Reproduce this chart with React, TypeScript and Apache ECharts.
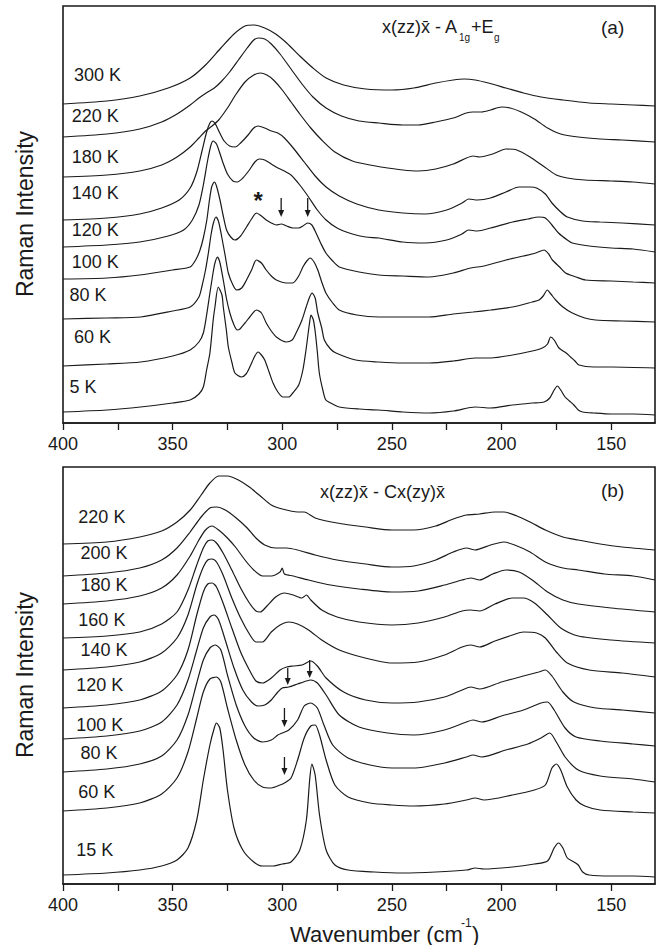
import React, { useEffect, useRef } from "react";
import * as echarts from "echarts";

// ---------- axis ticks ----------
const majorTicks = [400, 350, 300, 250, 200, 150];
const minorTicks = [400, 375, 350, 325, 300, 275, 250, 225, 200, 175, 150];

// ---------- panel (a): x(zz)x - A1g+Eg ----------
const labelsA = ["300 K", "220 K", "180 K", "140 K", "120 K", "100 K", "80 K", "60 K", "5 K"];

const a300K: number[][] = [[400,319],[380,322],[365,327],[352,335],[342,345],[335,358],[328,375],[322,389],[317,397],[313,398],[308,395],[303,389],[298,380],[292,367],[286,355],[280,345],[272,338],[262,334],[250,333],[240,335],[230,340],[222,343],[217,344],[212,343],[206,340],[198,335],[190,330],[182,326],[172,323],[160,320],[150,319],[140,318],[130,317]];
const a220K: number[][] = [[400,286],[380,289],[365,294],[355,301],[348,309],[342,318],[338,325],[334,331],[331,335],[328,341],[324,351],[320,363],[316,375],[313,383],[311,385],[308,384],[305,379],[301,369],[296,354],[291,339],[286,326],[280,315],[273,307],[265,302],[256,300],[245,298],[238,298],[230,301],[222,305],[216,310],[213,311],[209,311],[205,313],[200,316],[196,315],[191,311],[185,304],[179,295],[173,289],[165,286],[155,284],[145,283],[130,281]];
const a180K: number[][] = [[400,246],[380,248],[365,252],[355,258],[348,266],[342,276],[338,285],[335,292],[332,297],[329,303],[325,315],[321,329],[317,341],[313,348],[310,350],[307,348],[304,343],[300,333],[296,321],[292,309],[287,295],[282,283],[276,271],[268,262],[260,258],[255,256],[245,253],[238,252],[230,254],[222,259],[216,265],[213,267],[210,266],[204,269],[198,274],[193,273],[187,266],[181,257],[175,248],[170,245],[162,243],[150,242],[140,241],[130,239]];
const a140K: number[][] = [[400,203],[380,205],[365,209],[355,215],[347,223],[342,235],[339,251],[336.5,273],[334.5,291],[333,300],[332,302],[330.5,299],[328.5,290],[326.5,282],[324,277],[321.5,276],[319,280],[316,287],[313,295],[311,297],[308,295],[305,292],[302,290],[299,285],[295,275],[290,261],[285,247],[280,236],[274,227],[266,219],[256,213],[245,210],[235,209],[225,213],[218,220],[215,224],[211,223],[205,225],[198,231],[192,236],[187,236],[184,235],[180,229],[177,220],[173,211],[170,206],[163,202],[155,201],[145,200],[130,198]];
const a120K: number[][] = [[400,176],[380,178],[365,181],[352,187],[345,193],[341,203],[338,218],[336,238],[334,263],[332.5,278],[331.5,282],[330,279],[328.5,270],[327,260],[325,249],[322.5,242],[320.5,241],[318,245],[315,253],[312.5,261],[310.5,264],[308,263],[305,259],[302,255],[299,252],[296,248],[292,238],[288,226],[284,213],[280,203],[275,195],[268,189],[262,186],[256,185],[245,181],[235,180],[225,183],[218,189],[215,193],[211,192],[205,195],[195,201],[188,204],[183,206],[180,205],[177,198],[174,190],[170,183],[167.7,180],[160,177],[150,175],[140,174],[130,171]];
const a100K: number[][] = [[400,144],[380,145],[365,148],[350,153],[342,156],[339.5,163],[337.5,173],[336,185],[334.4,203],[333.2,223],[332.2,236],[331,241],[330,237],[328.4,223],[327,208],[325.4,193],[323.5,186],[321.6,183],[319,187],[316.3,196],[314,204],[311.8,210],[309.5,207],[307.3,203],[305,200],[302.7,198],[300.5,199],[298,197],[295.2,195],[292.5,195],[290.6,197],[288.4,200],[286.5,198],[284.6,190],[282.5,180],[280.1,170],[277,162],[274,156],[265,151],[256,148],[245,147],[233,146],[222,150],[214,155],[208,157],[198,163],[190,167],[184.4,170],[180.6,173],[178.5,169],[176.8,163],[173.5,156],[170.8,150],[166,146],[161.7,143],[150,142],[140,141],[130,140]];
const a80K: number[][] = [[400,104],[380,105],[364.6,106],[350,112],[342,116],[338,126],[336.7,136],[335,153],[333.7,170],[332.5,188],[331.4,200],[330.2,206],[329,201],[327.6,186],[326,167],[324.6,150],[322.5,138],[320.8,133],[318.5,135],[316.3,143],[314,153],[311.8,163],[309.5,160],[307.3,153],[305,147],[302.7,143],[298.2,140],[295.2,140],[292.5,147],[290.6,156],[288.8,162],[287.3,165],[285.5,161],[283.8,153],[282,141],[280.1,130],[277,120],[274,113],[266,108],[256,106],[245,106],[233,106],[222,109],[213,111],[205,113],[195,116],[186,121],[182.9,123],[181,127],[179.1,133],[177.5,129],[175.3,123],[172,116],[167.7,110],[162,105],[157.1,103],[145,102],[130,101]];
const a60K: number[][] = [[400,57],[380,59],[364.6,61],[350,67],[342,73],[338,81],[336,90],[334.5,108],[333,130],[331.5,151],[330.7,160],[329.6,166],[328.5,161],[326.9,143],[325.5,125],[323.9,110],[322,98],[320.5,93],[319.3,94],[317,100],[314.8,106],[311.8,113],[309.5,110],[307.3,100],[305,92],[302.7,86],[298.2,81],[295.5,83],[293.7,90],[291,103],[289.1,116],[287.5,126],[286.4,130],[285,125],[283.8,110],[282,95],[280.8,83],[278,74],[275.5,70],[266.5,63],[256,61],[245,60],[233,60],[222,62],[212,65],[205,65],[195,68],[186,72],[181.4,75],[179,79],[177.6,86],[176,83],[173.8,75],[170.5,70],[168.5,66],[166.5,62],[164.7,58],[158,56],[149.5,56],[130,55]];
const a5K: number[][] = [[400,11],[380,13],[364.6,16],[350,20],[342,23],[338,29],[336,36],[334.5,53],[333,70],[331.5,103],[330.7,116],[329.2,136],[327.5,128],[326.9,116],[325.5,93],[324.6,76],[323,61],[321.6,50],[318.6,46],[316.5,49],[314.8,56],[312.5,67],[311,71],[309.5,68],[308,63],[306,51],[304.2,40],[302,31],[299.7,26],[297,26],[295.2,30],[292.5,38],[290.6,53],[289.3,71],[288.4,86],[287.5,101],[286.9,108],[285.8,103],[284.9,90],[284,71],[283.1,50],[281.5,33],[280.1,23],[277,19],[274,16],[265,14],[256,13],[245,11],[233,10],[222,12],[212,16],[205,15],[195,18],[186,20],[180.6,21],[178,25],[176,33],[174.5,37],[173,33],[171,26],[169,22],[167,18],[165,13],[163,11],[158,10],[150,9],[140,9],[130,8]];
const spectraA = [a300K, a220K, a180K, a140K, a120K, a100K, a80K, a60K, a5K];
const labelPosA: number[][] = [[395,348],[396,307],[396,266],[396,230],[396,193],[396,161],[397,128],[395,86],[397,36]];
const starA: number[][] = [[311, 223]];
const arrowsA: number[][] = [[300.5, 225, 206], [288.4, 225, 206]];

// ---------- panel (b): x(zz)x - Cx(zy)x ----------
const labelsB = ["220 K", "200 K", "180 K", "160 K", "140 K", "120 K", "100 K", "80 K", "60 K", "15 K"];
const b220K: number[][] = [[400,340],[380,342],[365,347],[355,353],[348,362],[342,374],[337,389],[333,401],[329,408],[325,408],[320,404],[315,397],[310,388],[305,379],[300,375],[293,372],[290,372],[285,366],[275,361],[262,357],[250,354],[240,354],[230,358],[222,365],[216,369],[210,370],[203,372],[199,372],[193,368],[187,362],[180,354],[172,347],[165,344],[155,340],[145,337],[130,334]];
const b200K: number[][] = [[400,308],[380,311],[365,316],[355,324],[348,336],[342,352],[337,367],[333,376],[330,377],[326,374],[321,366],[316,356],[312,346],[308,339],[303,336],[298,336],[293,334],[285,329],[275,324],[262,320],[250,317],[240,318],[230,324],[222,332],[216,336],[212,334],[205,339],[199,342],[194,339],[187,332],[180,322],[172,316],[165,314],[153,310],[140,308],[130,304]];
const b180K: number[][] = [[400,280],[380,283],[365,288],[355,296],[348,309],[342,328],[338,344],[335,354],[332,358],[329,354],[325,346],[321,336],[317,324],[313,314],[309,308],[305,308],[301,312],[300,316],[299,310],[295,308],[288,304],[278,299],[265,295],[250,292],[238,293],[226,299],[218,304],[214,306],[210,304],[204,310],[198,314],[192,312],[186,304],[179,292],[172,284],[165,280],[150,276],[130,272]];
const b160K: number[][] = [[400,246],[380,248],[365,252],[355,260],[348,272],[343,294],[339,319],[336,336],[334,343],[332,344],[330,341],[327,331],[323,314],[319,296],[315,281],[312,273],[310,272],[307,278],[303,287],[299,291],[295,289],[291,286],[289,289],[287,284],[282,274],[275,267],[265,262],[250,259],[238,261],[226,267],[218,273],[214,274],[210,273],[203,280],[195,286],[190,286],[185,281],[179,269],[173,256],[165,248],[150,244],[130,241]];
const b140K: number[][] = [[400,214],[380,217],[365,222],[355,231],[348,246],[343,269],[339,299],[336,317],[334,324],[332,325],[330,322],[327,309],[323,286],[319,266],[315,250],[312,242],[309,242],[305,252],[301,259],[297,262],[293,260],[288,254],[282,244],[274,234],[264,227],[250,221],[238,222],[226,229],[218,237],[214,239],[210,237],[203,243],[195,249],[190,252],[184,251],[180,246],[175,232],[170,221],[160,214],[145,211],[130,207]];
const b120K: number[][] = [[400,176],[380,179],[365,184],[355,193],[348,209],[343,234],[339,269],[336,292],[334,300],[332,301],[330,297],[327,281],[323,256],[319,232],[315,214],[312,203],[309,201],[305,206],[301,214],[298,217],[295,218],[291,219],[287,223],[284,218],[280,206],[272,192],[262,184],[250,181],[238,182],[226,187],[218,194],[214,197],[210,195],[200,202],[190,208],[183,212],[180,214],[177,208],[172,192],[167,182],[157,176],[145,174],[130,171]];
const b100K: number[][] = [[400,145],[380,148],[365,153],[355,162],[348,179],[343,204],[339,234],[336,256],[333,267],[331,269],[329,264],[326,244],[322,216],[318,194],[314,182],[311,178],[308,179],[305,184],[302,192],[300,196],[297,197],[293,200],[289,203],[287,204],[284,201],[280,189],[274,169],[265,157],[252,151],[240,149],[226,154],[216,162],[213,164],[209,162],[200,168],[190,174],[182,181],[179,182],[176,174],[171,156],[166,147],[155,143],[140,140],[130,138]];
const b80K: number[][] = [[400,112],[380,115],[365,120],[355,128],[348,144],[343,169],[339,201],[336,224],[333,236],[330.5,239],[328,234],[325,209],[321,179],[317,158],[313,146],[309,142],[305,144],[302,149],[300,151],[297,154],[293,164],[290,178],[287,181],[284,176],[281,159],[277,139],[270,126],[260,119],[250,116],[240,116],[226,121],[216,127],[213,129],[209,127],[198,134],[188,140],[182,146],[178,151],[175,142],[171,127],[165,114],[155,108],[140,105],[130,102]];
const b60K: number[][] = [[400,73],[380,76],[365,81],[355,90],[348,106],[343,132],[339,166],[336,192],[333,205],[330,207],[328,202],[325,176],[321,144],[317,119],[313,104],[309,97],[305,96],[301,99],[299,101],[296,106],[293,124],[290,146],[287,158],[285,159],[283,149],[280,124],[276,99],[270,87],[260,81],[250,79],[240,78],[226,80],[216,84],[212,86],[208,84],[195,89],[185,94],[180,99],[177,116],[175,120],[173,114],[170,97],[166,84],[162,78],[155,74],[140,72],[130,71]];
const b15K: number[][] = [[400,9],[380,11],[365,14],[355,18],[348,24],[343,36],[339,64],[336,104],[333,139],[331,156],[330,161],[328.5,156],[327,134],[325,94],[322,56],[318,34],[313,22],[309,18],[304,18],[300,20],[296,22],[292,34],[289,64],[287.5,104],[286.5,120],[285,109],[283,69],[280,34],[276,19],[270,14],[258,12],[245,11],[230,12],[216,14],[212,16],[208,15],[195,17],[185,20],[179,23],[176,36],[174,41],[172,36],[170,26],[167,22],[165,19],[163,12],[160,9],[150,8],[140,8],[130,7]];
const spectraB = [b220K, b200K, b180K, b160K, b140K, b120K, b100K, b80K, b60K, b15K];
const labelPosB: number[][] = [[393,367],[392,331],[392,299],[393,264],[392,234],[394,199],[394,159],[392,131],[393,92],[394,34]];
const arrowsB: number[][] = [[297.5, 216, 199], [287.5, 224, 206], [299, 176, 157], [299, 127, 109]];

const FONT = "'Liberation Sans', Arial, Helvetica, sans-serif";
const INK = "#1a1a1a";

export default function App() {
  const ref = useRef<HTMLDivElement>(null);
  useEffect(() => {
    document.body.style.margin = "0";
    const chart = echarts.init(ref.current!, undefined, { renderer: "svg" });

    const xAxisBase = (gridIndex: number) => ({
      type: "value" as const,
      gridIndex,
      min: 130,
      max: 400,
      inverse: true,
      axisLine: { show: true, onZero: false, lineStyle: { color: INK, width: 1.6 } },
      axisTick: { show: true, inside: false, length: 7, customValues: minorTicks, lineStyle: { color: INK, width: 1.3 } },
      axisLabel: { show: true, customValues: majorTicks, fontSize: 18, color: INK, fontFamily: FONT, margin: 12 },
      splitLine: { show: false },
    });
    const yAxisBase = (gridIndex: number) => ({
      type: "value" as const,
      gridIndex,
      min: 0,
      max: 417,
      axisLine: { show: false },
      axisTick: { show: false },
      axisLabel: { show: false },
      splitLine: { show: false },
    });

    const lineSeries = (data: number[][], gi: number) => ({
      type: "line" as const,
      xAxisIndex: gi,
      yAxisIndex: gi,
      data,
      showSymbol: false,
      symbol: "none",
      smooth: 0.25,
      lineStyle: { color: INK, width: 1.2 },
      silent: true,
    });

    const arrowSeries = (data: number[][], gi: number) => ({
      type: "custom" as const,
      xAxisIndex: gi,
      yAxisIndex: gi,
      data,
      silent: true,
      z: 10,
      renderItem: (params: any, api: any) => {
        const top = api.coord([api.value(0), api.value(1)]);
        const bot = api.coord([api.value(0), api.value(2)]);
        return {
          type: "group",
          children: [
            { type: "line", shape: { x1: top[0], y1: top[1], x2: bot[0], y2: bot[1] - 5 }, style: { stroke: INK, lineWidth: 1.3 } },
            { type: "polygon", shape: { points: [[bot[0] - 3, bot[1] - 7], [bot[0] + 3, bot[1] - 7], [bot[0], bot[1]]] }, style: { fill: INK } },
          ],
        };
      },
    });

    const textSeries = (data: number[][], texts: string[], gi: number, extra: any = {}) => ({
      type: "custom" as const,
      xAxisIndex: gi,
      yAxisIndex: gi,
      data,
      silent: true,
      z: 10,
      renderItem: (params: any, api: any) => {
        const p = api.coord([api.value(0), api.value(1)]);
        return {
          type: "text",
          x: p[0],
          y: p[1],
          style: { text: texts[params.dataIndex], fontSize: 18, fontFamily: FONT, fill: INK, align: "left", verticalAlign: "middle", ...extra },
        };
      },
    });

    const series: any[] = [];
    spectraA.forEach((d) => series.push(lineSeries(d, 0)));
    spectraB.forEach((d) => series.push(lineSeries(d, 1)));
    series.push(textSeries(labelPosA, labelsA, 0));
    series.push(textSeries(labelPosB, labelsB, 1));
    series.push(textSeries(starA, ["*"], 0, { fontSize: 24, fontWeight: "bold", align: "center" }));
    series.push(arrowSeries(arrowsA, 0));
    series.push(arrowSeries(arrowsB, 1));

    const t = (text: string, x: number, y: number, size: number, extra: any = {}) => ({
      type: "text",
      x,
      y,
      style: { text, fontSize: size, fontFamily: FONT, fill: INK, align: "left", verticalAlign: "middle", ...extra },
    });

    chart.setOption({
      animation: false,
      backgroundColor: "#ffffff",
      grid: [
        { left: 63, right: 6, top: 6, height: 417, show: true, borderColor: INK, borderWidth: 1.6, backgroundColor: "transparent" },
        { left: 63, right: 6, top: 467, height: 417, show: true, borderColor: INK, borderWidth: 1.6, backgroundColor: "transparent" },
      ],
      xAxis: [xAxisBase(0), xAxisBase(1)],
      yAxis: [yAxisBase(0), yAxisBase(1)],
      series,
      graphic: [
        // panel (a) title: x(zz)x - A1g+Eg
        t("x(zz)x\u0304 - A", 382, 27, 18),
        t("1g", 459, 37, 10),
        t("+E", 471, 27, 18),
        t("g", 494, 37, 10),
        t("(a)", 601, 27, 19),
        // panel (b) title
        t("x(zz)x\u0304 - Cx(zy)x\u0304", 320, 492, 18),
        t("(b)", 601, 490, 19),
        // axis names (rotated)
        { ...t("Raman Intensity", 25, 214, 23, { align: "center" }), rotation: Math.PI / 2 },
        { ...t("Raman Intensity", 25, 675, 23, { align: "center" }), rotation: Math.PI / 2 },
        t("Wavenumber (cm", 290, 934, 22),
        t("-1", 461, 923, 12),
        t(")", 472, 934, 22),
      ],
    });

    return () => chart.dispose();
  }, []);

  return <div ref={ref} style={{ position: "absolute", left: 0, top: 0, width: 661, height: 945 }} />;
}
